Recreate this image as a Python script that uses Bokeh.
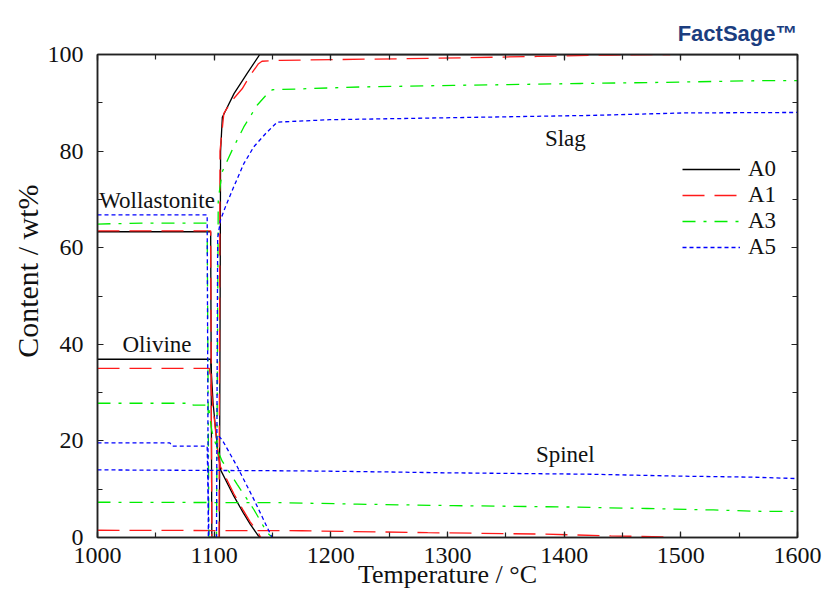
from bokeh.plotting import figure
from bokeh.models import (Range1d, LinearAxis, Legend, LegendItem, Title,
                          SingleIntervalTicker)
from bokeh.core.properties import value
from bokeh.embed import file_html
from bokeh.resources import INLINE

FONT = "Liberation Serif"

# ---------------- data (temperature / degC, content / wt%) ----------------
series_names = ["A0", "A1", "A3", "A5"]

# A0
a0_wol_T = [1000, 1097, 1098]
a0_wol_W = [63.3, 63.3, 0.0]
a0_oli_T = [1000, 1097, 1099, 1103, 1105.5, 1117, 1125, 1131, 1138, 1140]
a0_oli_W = [36.9, 36.9, 28.0, 18.0, 14.0, 8.5, 5.1, 2.7, 0.3, 0.0]
a0_slag_T = [1098, 1104.5, 1105.5, 1107, 1117, 1128, 1138, 1139, 1600]
a0_slag_W = [0.0, 0.0, 80.0, 87.0, 91.9, 96.0, 99.6, 100.0, 100.0]

# A1
a1_wol_T = [1000, 1097, 1098]
a1_wol_W = [63.5, 63.5, 0.0]
a1_oli_T = [1000, 1096, 1099, 1103, 1105.4, 1117, 1125, 1131, 1137, 1140]
a1_oli_W = [35.0, 35.0, 27.0, 18.0, 14.7, 9.0, 5.6, 3.2, 1.3, 0.0]
a1_slag_T = [1099, 1104.2, 1105, 1108.3, 1115.4, 1124, 1131, 1138, 1141, 1157, 1285, 1377, 1440, 1491]
a1_slag_W = [0.0, 0.0, 80.0, 87.8, 90.5, 92.9, 95.7, 98.1, 98.6, 98.8, 99.2, 99.6, 99.9, 100.0]
a1_spin_T = [1000, 1175, 1283, 1382, 1440, 1490]
a1_spin_W = [1.5, 1.4, 1.0, 0.7, 0.35, 0.1]

# A3
a3_wol_T = [1000, 1040, 1094, 1095.5]
a3_wol_W = [64.9, 65.1, 65.1, 0.0]
a3_oli_T = [1000, 1081, 1082, 1095, 1098, 1103, 1106.9, 1119.7, 1134, 1145.4, 1150]
a3_oli_W = [27.8, 27.8, 27.4, 27.4, 22.0, 18.0, 15.8, 11.0, 5.8, 1.0, 0.0]
a3_slag_T = [1096, 1102, 1103.5, 1106.9, 1115.4, 1125.4, 1136.8, 1146.8, 1150, 1228, 1305, 1414, 1477, 1571, 1600]
a3_slag_W = [0.0, 0.0, 70.0, 75.7, 80.2, 85.0, 89.5, 92.2, 92.7, 93.3, 93.6, 94.0, 94.2, 94.6, 94.6]
a3_spin_T = [1000, 1160, 1223, 1305, 1408, 1471, 1528, 1571, 1600]
a3_spin_W = [7.3, 7.2, 6.9, 6.6, 6.3, 6.0, 5.7, 5.4, 5.4]

# A5
a5_wol_T = [1000, 1094, 1095]
a5_wol_W = [66.8, 66.8, 0.0]
a5_oli_T = [1000, 1062, 1064, 1094, 1095.5]
a5_oli_W = [19.6, 19.6, 18.9, 18.9, 0.0]
a5_oli2_T = [1104, 1106.9, 1119.7, 1134, 1149.6]
a5_oli2_W = [21.0, 20.2, 14.7, 7.9, 0.0]
a5_slag_T = [1095.5, 1102, 1103, 1105.4, 1109.7, 1116.8, 1125.4, 1134, 1144, 1154, 1199, 1425, 1502, 1600]
a5_slag_W = [0.0, 0.0, 62.0, 65.7, 68.5, 72.6, 77.4, 80.9, 83.6, 86.0, 86.5, 87.4, 87.9, 88.0]
a5_spin_T = [1000, 1172, 1240, 1297, 1423, 1500, 1560, 1600]
a5_spin_W = [14.0, 13.8, 13.6, 13.4, 13.1, 12.7, 12.5, 12.2]

# phase labels
phase_names = ["Wollastonite", "Olivine", "Slag", "Spinel"]
phase_T = [1051, 1051, 1401, 1401]
phase_W = [69.8, 40.0, 82.6, 17.1]

x_ticks_step = 100
y_ticks_step = 20

segments = {
    "A0": [(a0_wol_T, a0_wol_W), (a0_oli_T, a0_oli_W), (a0_slag_T, a0_slag_W)],
    "A1": [(a1_wol_T, a1_wol_W), (a1_oli_T, a1_oli_W), (a1_slag_T, a1_slag_W), (a1_spin_T, a1_spin_W)],
    "A3": [(a3_wol_T, a3_wol_W), (a3_oli_T, a3_oli_W), (a3_slag_T, a3_slag_W), (a3_spin_T, a3_spin_W)],
    "A5": [(a5_wol_T, a5_wol_W), (a5_oli_T, a5_oli_W), (a5_oli2_T, a5_oli2_W), (a5_slag_T, a5_slag_W), (a5_spin_T, a5_spin_W)],
}
colors = {"A0": "#000000", "A1": "#ff1a1a", "A3": "#00ee00", "A5": "#0000ff"}
dashes = {"A0": "solid", "A1": "22 10", "A3": "13 8 3 8", "A5": "4 3"}

# ---------------- figure ----------------
p = figure(width=826, height=597, x_range=Range1d(1000, 1600), y_range=Range1d(0, 100),
           output_backend="svg", toolbar_location=None,
           min_border_left=97, min_border_right=29, min_border_top=54, min_border_bottom=60)
p.background_fill_color = "white"
p.border_fill_color = "white"
p.xgrid.visible = False
p.ygrid.visible = False
p.outline_line_color = "#222222"
p.outline_line_width = 1.5

# logo as title (top right)
p.title.text = "FactSage\u2122"
p.title.align = "right"
p.title.text_font = "Liberation Sans"
p.title.text_font_size = "22px"
p.title.text_font_style = "bold"
p.title.text_color = "#1b3d7f"
p.title.standoff = 17


def style_axis(ax, show_labels):
    ax.axis_line_color = "#222222"
    ax.axis_line_width = 1.5
    ax.major_tick_in = 6
    ax.major_tick_out = 0
    ax.minor_tick_in = 5
    ax.minor_tick_out = 0
    ax.major_tick_line_color = "#222222"
    ax.minor_tick_line_color = "#222222"
    ax.major_tick_line_width = 1.2
    ax.minor_tick_line_width = 1.2
    if show_labels:
        ax.major_label_text_font = FONT
        ax.major_label_text_font_size = "24px"
        ax.major_label_text_color = "#111111"
    else:
        ax.major_label_text_font_size = "1px"
        ax.major_label_text_color = None


p.xaxis.ticker = SingleIntervalTicker(interval=x_ticks_step, num_minor_ticks=2)
p.yaxis.ticker = SingleIntervalTicker(interval=y_ticks_step, num_minor_ticks=2)
style_axis(p.xaxis[0], True)
style_axis(p.yaxis[0], True)
p.xaxis.major_label_standoff = 10
p.yaxis.major_label_standoff = 14

p.xaxis.axis_label = "Temperature / \u00b0C"
p.xaxis.axis_label_text_font = FONT
p.xaxis.axis_label_text_font_size = "26px"
p.xaxis.axis_label_text_font_style = "normal"
p.xaxis.axis_label_text_color = "#111111"
p.xaxis.axis_label_standoff = -6

top = LinearAxis(ticker=SingleIntervalTicker(interval=x_ticks_step, num_minor_ticks=2))
right = LinearAxis(ticker=SingleIntervalTicker(interval=y_ticks_step, num_minor_ticks=2))
style_axis(top, False)
style_axis(right, False)
p.add_layout(top, "above")
p.add_layout(right, "right")

# y axis title, placed toward the upper part like the reference
ytitle = Title(text="Content / wt%", align="right", offset=130, text_font=FONT,
               text_font_size="30px", text_font_style="normal", text_color="#111111",
               standoff=2)
p.add_layout(ytitle, "left")

renderers = {}
for name in series_names:
    xs = [list(t) for t, w in segments[name]]
    ys = [list(w) for t, w in segments[name]]
    r = p.multi_line(xs=xs, ys=ys, line_color=colors[name], line_width=1.3,
                     line_dash=dashes[name])
    renderers[name] = r

p.text(x=phase_T, y=phase_W, text=phase_names, text_font=value(FONT),
       text_font_size=value("23px"), text_align="center", text_baseline="middle",
       text_color="#111111")

legend = Legend(items=[LegendItem(label=n, renderers=[renderers[n]]) for n in series_names],
                location=(585, 277), orientation="vertical",
                label_text_font=FONT, label_text_font_size="23px", label_text_color="#111111",
                glyph_width=58, glyph_height=24, label_height=24, label_standoff=8,
                spacing=0, padding=0, margin=0, border_line_color=None,
                background_fill_alpha=0)
p.add_layout(legend)

open("out.html", "w").write(file_html(p, INLINE))
